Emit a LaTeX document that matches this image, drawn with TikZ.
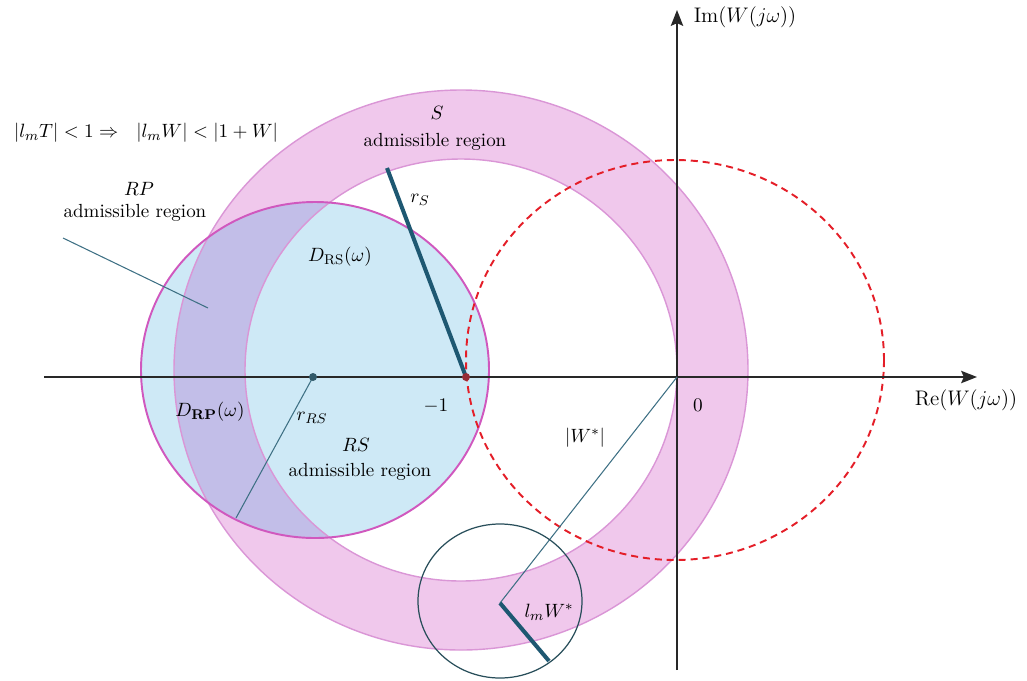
\documentclass[tikz,border=0pt]{standalone}
\usetikzlibrary{arrows.meta}
\definecolor{ringpink}{RGB}{240,200,236}
\definecolor{ringedge}{RGB}{218,150,214}
\definecolor{rsblue}{RGB}{206,233,246}
\definecolor{overlap}{RGB}{194,190,232}
\definecolor{rsedge}{RGB}{208,88,190}
\definecolor{teal}{RGB}{30,88,114}
\definecolor{thinteal}{RGB}{62,112,132}
\definecolor{circteal}{RGB}{40,78,90}
\definecolor{dashred}{RGB}{228,30,40}
\definecolor{dotred}{RGB}{150,45,55}
\definecolor{axisgray}{RGB}{40,40,40}
\tikzset{
  axis/.style={line width=1.1pt, axisgray, -{Stealth[length=9pt,width=7pt,inset=1.5pt]}},
  thickline/.style={line width=2.3pt, teal},
  thinline/.style={line width=0.6pt, thinteal},
  lbl/.style={font=\fontsize{10.8}{12}\selectfont, inner sep=0pt},
  mlbl/.style={font=\fontsize{11.3}{13}\selectfont, inner sep=0pt},
  axlbl/.style={font=\fontsize{12.5}{14}\selectfont, inner sep=0pt},
  ringline/.style={line width=0.8pt, ringedge},
}
\begin{document}
\begin{tikzpicture}[x=0.02cm,y=-0.02cm]
\useasboundingbox (0,0) rectangle (1027,680);
% key points
\coordinate (O) at (677,377);
\coordinate (M) at (466,377);
\coordinate (Crs) at (313,377);
\coordinate (Cs) at (461,370);
\coordinate (Ce) at (315,370);
\coordinate (Cr) at (675,360);
\coordinate (Ws) at (500,603);
\coordinate (Wc) at (500,601);
\coordinate (rsEnd) at (387,168);
\coordinate (rrsEnd) at (236,518);
\coordinate (rpA) at (63,238);
\coordinate (rpB) at (208,308);
\coordinate (lmEnd) at (549,661);
\coordinate (xL) at (44,377);
\coordinate (xR) at (977,377);
\coordinate (yB) at (677,670);
\coordinate (yT) at (677,10);
% S annulus
\fill[ringpink, even odd rule] (Cs) ellipse [x radius=287, y radius=280] (Cs) ellipse [x radius=216, y radius=211];
% RS disk
\fill[rsblue] (Ce) ellipse [x radius=174, y radius=168];
\begin{scope}
  \clip (Ce) ellipse [x radius=174, y radius=168];
  \fill[overlap, even odd rule] (Cs) ellipse [x radius=287, y radius=280] (Cs) ellipse [x radius=216, y radius=211];
\end{scope}
\draw[ringline] (Cs) ellipse [x radius=287, y radius=280];
\draw[ringline] (Cs) ellipse [x radius=216, y radius=211];
\draw[line width=1.1pt, rsedge] (Ce) ellipse [x radius=174, y radius=168];
% red dashed circle
\draw[dashred, line width=1.1pt, dash pattern=on 4pt off 2.8pt] (Cr) ellipse [x radius=209, y radius=200];
% axes
\draw[axis] (xL) -- (xR);
\draw[axis] (yB) -- (yT);
% lines
\draw[thinline] (rpA) -- (rpB);
\draw[thinline] (Crs) -- (rrsEnd);
\draw[thinline] (O) -- (Ws);
\draw[line width=0.7pt, circteal] (Wc) ellipse [x radius=82, y radius=77];
\draw[thickline] (M) -- (rsEnd);
\draw[thickline] (Ws) -- (lmEnd);
% dots
\fill[thinteal!80!black] (Crs) circle [radius=4];
\fill[dotred] (M) circle [radius=4];
% labels
\node[lbl] (f) at (146,133) {$|l_mT|<1\Rightarrow\ \ |l_mW|<|1+W|$};
\node[mlbl] (s1) at (437,113) {$S$};
\node[lbl] (s2) at (435,142) {admissible region};
\node[mlbl] (rp1) at (139,189) {$RP$};
\node[lbl] (rp2) at (135,213) {admissible region};
\node[mlbl] (rs) at (420,200) {$r_S$};
\node[mlbl] (drs) at (340,257) {$D_{\mathrm{RS}}(\omega)$};
\node[mlbl] (drp) at (210,412) {$D_{\mathbf{RP}}(\omega)$};
\node[mlbl] (rrs) at (312,418) {$r_{RS}$};
\node[mlbl] (m1) at (436,406) {$-1$};
\node[mlbl] (rs1) at (356,445) {$RS$};
\node[lbl] (rs2) at (360,472) {admissible region};
\node[mlbl] (wabs) at (585,438) {$|W^*|$};
\node[mlbl] (zero) at (698,405) {$0$};
\node[axlbl] (re) at (966,400) {$\mathrm{Re}\big(W(j\omega)\big)$};
\node[axlbl] (im) at (745,17) {$\mathrm{Im}\big(W(j\omega)\big)$};
\node[mlbl] (lmw) at (549,612) {$l_mW^*$};
\end{tikzpicture}
\end{document}
